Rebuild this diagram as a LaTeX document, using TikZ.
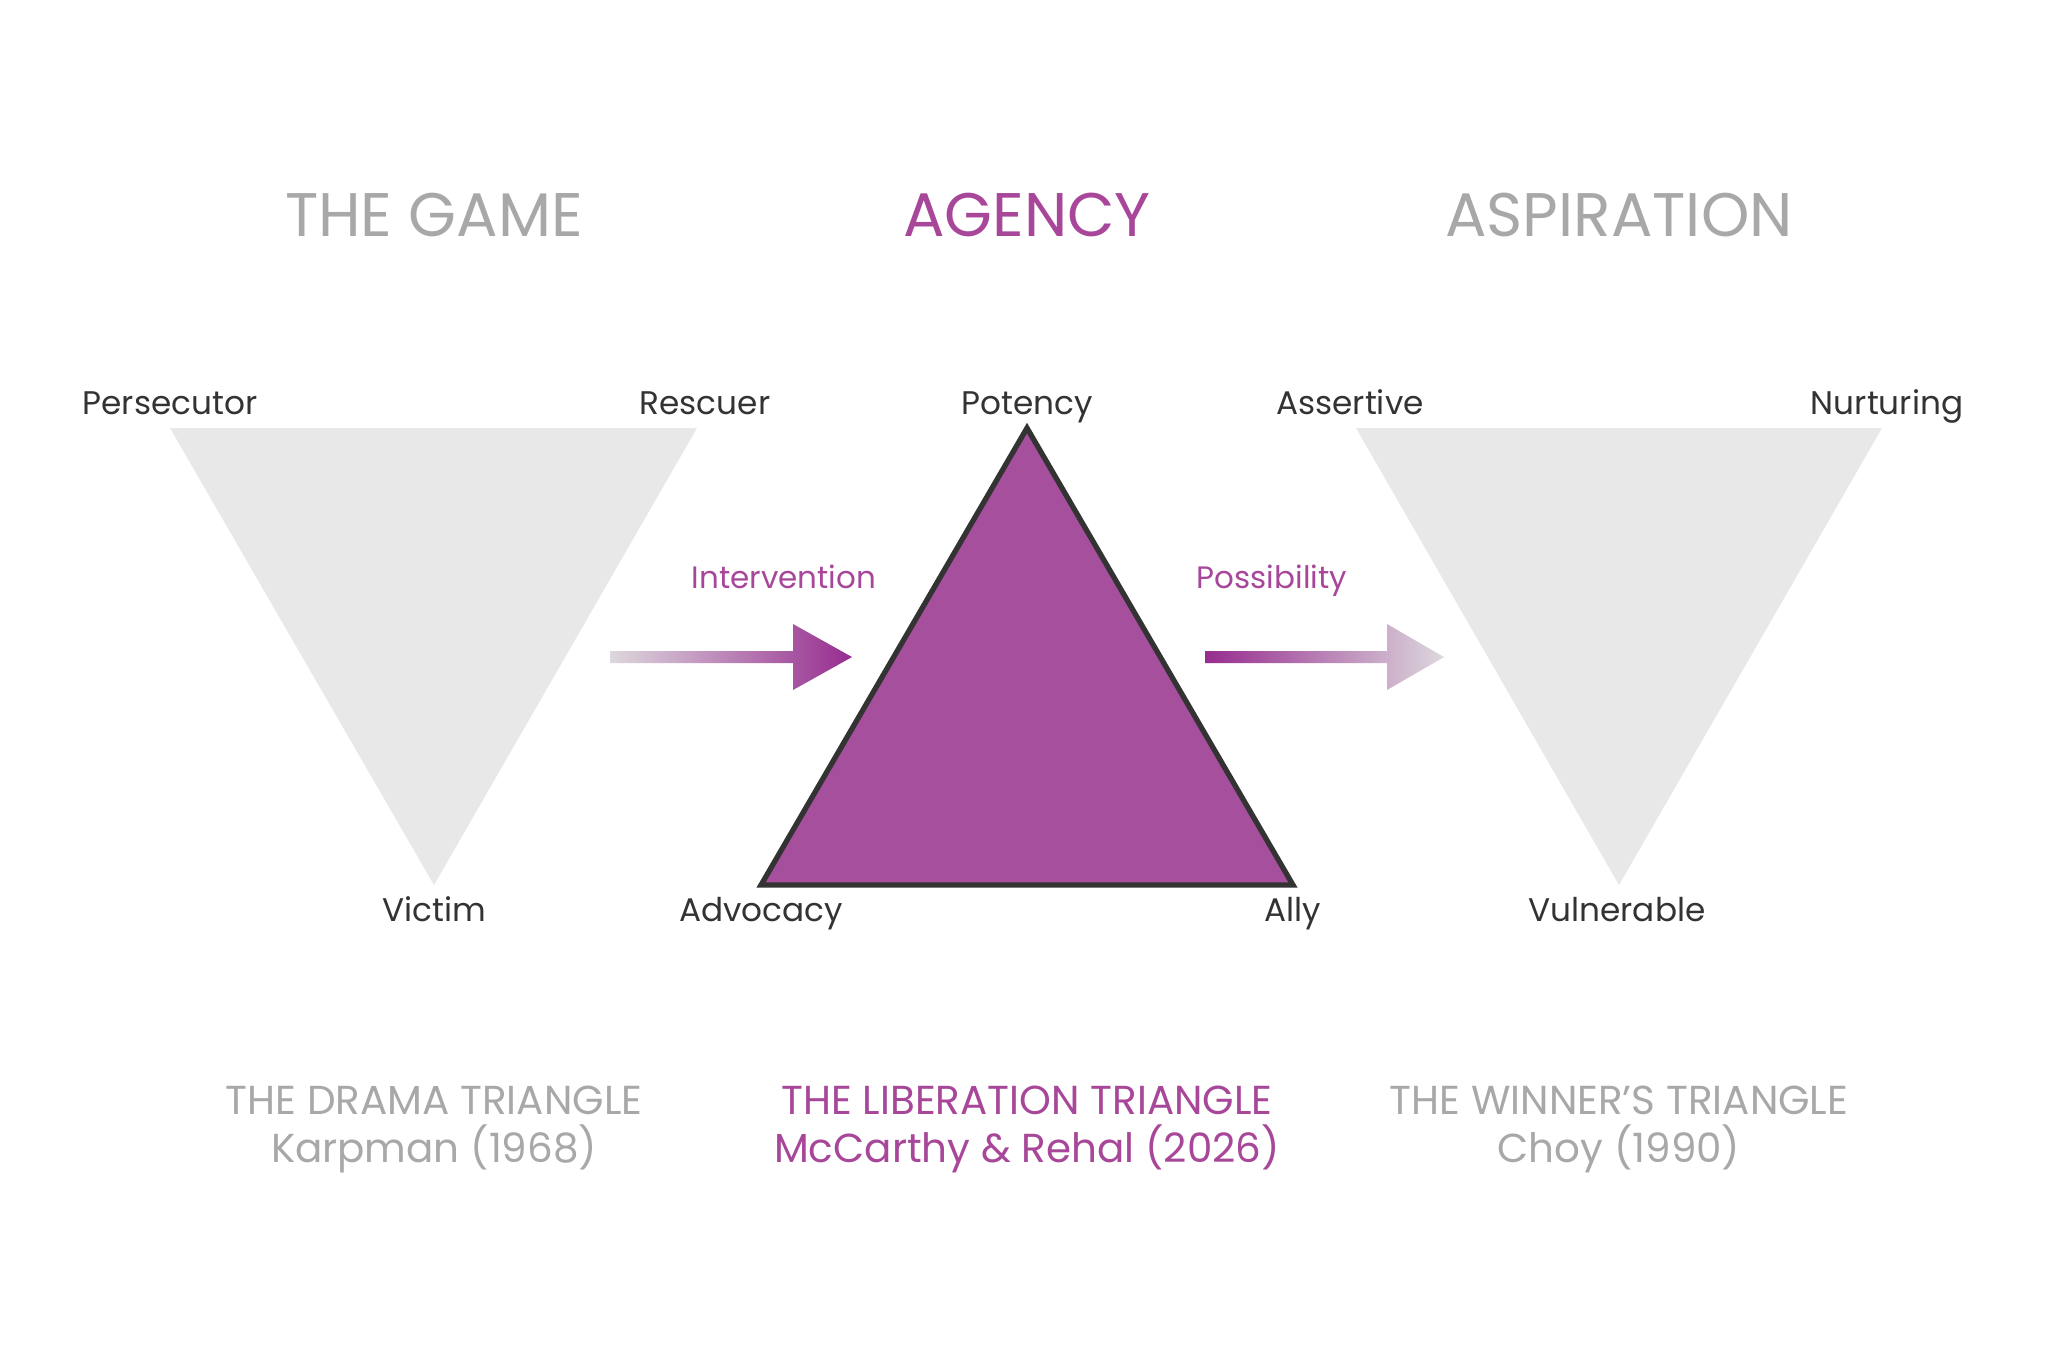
\documentclass[tikz,border=0pt]{standalone}
\usepackage{fontspec}
\setmainfont{Poppins}
\definecolor{viola}{HTML}{A54F9D}
\definecolor{violascuro}{HTML}{962C8F}
\definecolor{violatesto}{HTML}{A8479A}
\definecolor{grigiotesto}{HTML}{A8A8A8}
\definecolor{grigiotri}{HTML}{E8E8E8}
\definecolor{scuro}{HTML}{333333}
\definecolor{sfumato}{HTML}{DDD8DD}
\tikzset{
  titolo/.style={font=\fontsize{17.5}{20}\selectfont, anchor=base},
  vertice/.style={font=\fontsize{9.3}{11}\selectfont, text=scuro, anchor=base},
  freccia/.style={font=\fontsize{8.8}{10}\selectfont, text=violatesto, anchor=base},
  fonte/.style={font=\fontsize{11.5}{13}\selectfont, anchor=base}
}
\begin{document}
\begin{tikzpicture}[x=0.01cm,y=-0.01cm]
  \useasboundingbox[fill=white] (0,0) rectangle (2048,1365);
  % Titoli
  \node[titolo, text=grigiotesto] (gioco) at (434,236) {THE GAME};
  \node[titolo, text=violatesto] (agenzia) at (1027,236) {AGENCY};
  \node[titolo, text=grigiotesto] (aspira) at (1619,236) {ASPIRATION};
  % Triangolo del dramma
  \fill[grigiotri] (170,428) -- (697,428) -- (434,885) -- cycle;
  % Triangolo della liberazione
  \filldraw[fill=viola, draw=scuro, line width=1.5pt, line join=miter]
    (1027,428) -- (1293,885) -- (761,885) -- cycle;
  % Triangolo del vincitore
  \fill[grigiotri] (1356,428) -- (1882,428) -- (1619,885) -- cycle;
  % Vertici
  \node[vertice] (persec) at (170,414) {Persecutor};
  \node[vertice] (salva) at (705,414) {Rescuer};
  \node[vertice] (vittima) at (434,921) {Victim};
  \node[vertice] (potenza) at (1027,414) {Potency};
  \node[vertice] (difesa) at (761,921) {Advocacy};
  \node[vertice] (alleato) at (1293,921) {Ally};
  \node[vertice] (assert) at (1350,414) {Assertive};
  \node[vertice] (nutre) at (1887,414) {Nurturing};
  \node[vertice] (vulner) at (1617,921) {Vulnerable};
  % Frecce sfumate
  \node[freccia] (interv) at (784,588) {Intervention};
  \shade[left color=sfumato, right color=violascuro]
    (610,651) -- (793,651) -- (793,624) -- (852,657) -- (793,690) -- (793,663) -- (610,663) -- cycle;
  \node[freccia] (possib) at (1272,588) {Possibility};
  \shade[left color=violascuro, right color=sfumato]
    (1205,651) -- (1387,651) -- (1387,624) -- (1444,657) -- (1387,690) -- (1387,663) -- (1205,663) -- cycle;
  % Didascalie
  \node[fonte, text=grigiotesto] (dramma) at (434,1114) {THE DRAMA TRIANGLE};
  \node[fonte, text=grigiotesto] (karpman) at (434,1162) {Karpman (1968)};
  \node[fonte, text=violatesto] (libera) at (1027,1114) {THE LIBERATION TRIANGLE};
  \node[fonte, text=violatesto] (autori) at (1027,1162) {McCarthy \& Rehal (2026)};
  \node[fonte, text=grigiotesto] (vince) at (1619,1114) {THE WINNER’S TRIANGLE};
  \node[fonte, text=grigiotesto] (choy) at (1619,1162) {Choy (1990)};
\end{tikzpicture}
\end{document}
